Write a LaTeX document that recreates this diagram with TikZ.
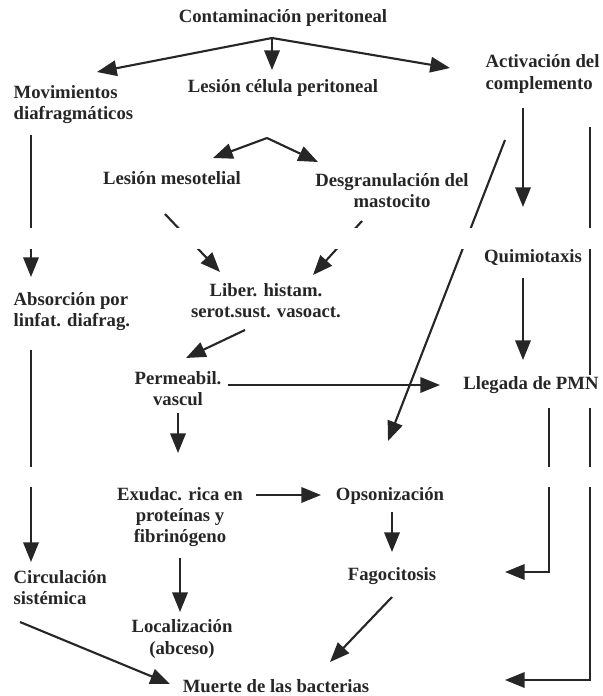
\documentclass[tikz,border=0pt]{standalone}
\usepackage{fontspec}
\setmainfont{Liberation Serif}
\usepackage{tikz}
\usetikzlibrary{arrows.meta, calc, positioning}
\tikzstyle{txt} = [align=center, inner sep=1pt, text=black!85, font=\bfseries\fontsize{13.3}{15}\selectfont]
\tikzstyle{txtl} = [txt, align=left, anchor=west]
\tikzstyle{arrow} = [line width=1.5pt, draw=black!85, -{Triangle[length=14pt,width=11pt]}]
\tikzstyle{link} = [line width=1.5pt, draw=black!85]

\begin{document}
\begin{tikzpicture}[x=0.025cm, y=-0.025cm]
        \useasboundingbox (0,0) rectangle (603,696);

        % Steps
        \node (cont) [txt] at (283,18) {Contaminación peritoneal};
        \node (lcp) [txt] at (283,88) {Lesión célula peritoneal};
        \node (mov) [txtl] at (12,105) {Movimientos\\diafragmáticos};
        \node (act) [txtl] at (484,74) {Activación del\\complemento};
        \node (lmes) [txt] at (172,178) {Lesión mesotelial};
        \node (desg) [txt] at (392,191) {Desgranulación del\\mastocito};
        \node (quim) [txt] at (533,258) {Quimiotaxis};
        \node (abs) [txtl] at (12,312) {Absorción por\\linfat. diafrag.};
        \node (liber) [txt] at (266,301) {Liber. histam.\\serot.sust. vasoact.};
        \node (perm) [txt] at (178,389) {Permeabil.\\vascul};
        \node (lleg) [txt] at (531,385) {Llegada de PMN};
        \node (exu) [txt] at (180,517) {Exudac. rica en\\proteínas y\\fibrinógeno};
        \node (ops) [txt] at (390,496) {Opsonización};
        \node (circ) [txtl] at (12,588) {Circulación\\sistémica};
        \node (fago) [txt] at (392,576) {Fagocitosis};
        \node (loc) [txt] at (182,639) {Localización\\(abceso)};
        \node (muerte) [txt] at (276,686) {Muerte de las bacterias};

        % Top split
        \coordinate (split) at ($(cont)+(-11,20)$);
        \draw [arrow] (split) -- ($(mov.west)+(85,-33)$);
        \draw [arrow] (split) -- ($(lcp)+(-11,-18)$);
        \draw [arrow] (split) -- ($(act.west)+(-34,-6)$);

        % Middle column
        \coordinate (fork) at ($(lcp)+(-16,50)$);
        \draw [arrow] (fork) -- ($(lmes)+(41,-20)$);
        \draw [arrow] (fork) -- ($(desg)+(-74,-29)$);
        \draw [arrow] ($(lmes)+(-7,36)$) -- ($(liber)+(-46,-29)$);
        \draw [arrow] ($(desg)+(-30,30)$) -- ($(liber)+(47,-26)$);
        \draw [arrow] ($(liber)+(-21,29)$) -- ($(perm)+(8,-31)$);
        \draw [arrow] ($(perm)+(50,-4)$) -- ($(lleg)+(-91,0)$);
        \draw [arrow] ($(perm)+(0,24)$) -- ($(exu)+(-2,-64)$);
        \draw [arrow] ($(exu)+(76,-22)$) -- ($(ops)+(-69,-1)$);
        \draw [arrow] ($(ops)+(2,16)$) -- ($(fago)+(0,-24)$);
        \draw [arrow] ($(exu)+(0,41)$) -- ($(loc)+(-2,-27)$);
        \draw [arrow] ($(fago)+(0,21)$) -- ($(muerte)+(54,-24)$);

        % Left column
        \draw [arrow] ($(mov.west)+(19,30)$) -- ($(abs.west)+(19,-35)$);
        \draw [arrow] ($(abs.west)+(19,38)$) -- ($(circ.west)+(19,-26)$);
        \draw [arrow] ($(circ.west)+(8,34)$) -- ($(muerte)+(-106,-2)$);

        % Right column
        \draw [arrow] ($(act.west)+(39,34)$) -- ($(quim)+(-10,-51)$);
        \draw [arrow] ($(quim)+(-10,20)$) -- ($(lleg)+(-8,-25)$);
        \draw [arrow] ($(act.west)+(21,66)$) -- ($(ops)+(-2,-55)$);
        \draw [link] ($(act.west)+(106,53)$) -- ($(lleg)+(59,-10)$);
        \draw [arrow] ($(lleg)+(18,23)$) |- ($(fago)+(113,-4)$);
        \draw [arrow] ($(lleg)+(59,23)$) |- ($(muerte)+(229,-6)$);

        % Blank strips of the scan
        \fill [white] (0,228) rectangle (603,249);
        \fill [white] (0,467) rectangle (603,487);
\end{tikzpicture}
\end{document}
